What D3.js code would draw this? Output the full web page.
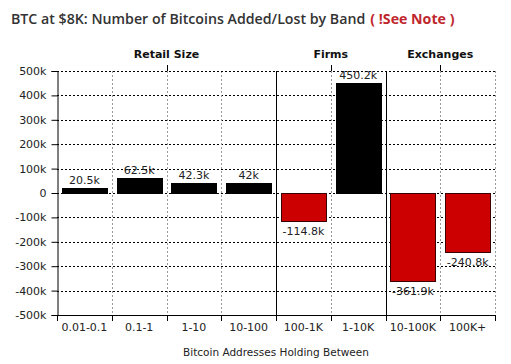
<!DOCTYPE html>
<html><head><meta charset="utf-8">
<script src="https://cdnjs.cloudflare.com/ajax/libs/d3/7.8.5/d3.min.js"></script>
<style>body{margin:0;background:#fff}svg{display:block}</style>
</head><body><svg id="c" width="511" height="364"></svg>
<script>
const categories = ["0.01-0.1","0.1-1","1-10","10-100","100-1K","1-10K","10-100K","100K+"];
const values = [20.5, 62.5, 42.3, 42, -114.8, 450.2, -361.9, -240.8];
const valueLabels = ["20.5k","62.5k","42.3k","42k","-114.8k","450.2k","-361.9k","-240.8k"];
const groups = ["Retail Size","Firms","Exchanges"];
const groupMembers = [[0,4],[4,6],[6,8]];
const yTicks = [500,400,300,200,100,0,-100,-200,-300,-400,-500];

const svg = d3.select("#c");
const L=57, R=495, T=71, B=315;
const font = "DejaVu Sans, Verdana, sans-serif";
const x = d3.scaleBand().domain(categories).range([L,R]).paddingInner(0.18).paddingOuter(0.09);
const y = d3.scaleLinear().domain([-500,500]).range([B,T]);
const step = x.step();
const bx = i => L + i*step;

// title
const title = svg.append("text").attr("x",11).attr("y",24)
  .attr("font-family","'Open Sans', sans-serif").attr("font-weight",600).attr("font-size",14.2).attr("fill","#333");
title.append("tspan").text("BTC at $8K: Number of Bitcoins Added/Lost by Band");
title.append("tspan").attr("dx",5).attr("fill","#c0272d").attr("font-weight",700).text("( !See Note )");

// horizontal gridlines
svg.append("g").selectAll("line").data(yTicks.filter(d=>d!==-500)).join("line")
  .attr("x1",L).attr("x2",R).attr("y1",d=>Math.round(y(d))+0.5).attr("y2",d=>Math.round(y(d))+0.5)
  .attr("stroke","#000").attr("stroke-dasharray","2,2").attr("stroke-width",1);

// vertical band boundaries
const bounds = d3.range(1,categories.length+1);
const groupBounds = [4,6];
svg.append("g").selectAll("line").data(bounds.filter(i=>!groupBounds.includes(i))).join("line")
  .attr("x1",i=>Math.round(bx(i))+0.5).attr("x2",i=>Math.round(bx(i))+0.5).attr("y1",T).attr("y2",B)
  .attr("stroke","#999").attr("stroke-dasharray","2,2");
svg.append("g").selectAll("line").data(groupBounds).join("line")
  .attr("x1",i=>Math.round(bx(i))+0.5).attr("x2",i=>Math.round(bx(i))+0.5).attr("y1",T).attr("y2",B)
  .attr("stroke","#000");

// bars
svg.append("g").selectAll("rect").data(values).join("rect")
  .attr("x",(d,i)=>Math.round(x(categories[i]))+0.5)
  .attr("width",Math.round(x.bandwidth()))
  .attr("y",d=>Math.round(y(Math.max(0,d)))+0.5)
  .attr("height",d=>Math.max(1,Math.round(Math.abs(y(d)-y(0)))))
  .attr("fill",d=>d>=0?"#000":"#cc0000")
  .attr("stroke",d=>d>=0?"#000":"#3a0000").attr("stroke-width",1);

// value labels
svg.append("g").selectAll("text").data(values).join("text")
  .attr("x",(d,i)=>x(categories[i])+x.bandwidth()/2)
  .attr("y",d=>d>=0? y(d)-4 : y(d)+14)
  .attr("text-anchor","middle").attr("font-family",font).attr("font-size",11).attr("fill","#222")
  .text((d,i)=>valueLabels[i]);

// y axis
const yAxis = d3.axisLeft(y).tickValues(yTicks).tickSize(6).tickPadding(5)
  .tickFormat(d=>d===0?"0":d+"k");
const gy = svg.append("g").attr("transform",`translate(${L+0.5},0)`).call(yAxis);
gy.select(".domain").attr("stroke","#000");
gy.selectAll(".tick text").attr("font-family",font).attr("font-size",11).attr("fill","#222");

// x axis
const gx = svg.append("g").attr("transform",`translate(0,${B+0.5})`).call(d3.axisBottom(x).tickSize(0).tickPadding(8));
gx.select(".domain").attr("d",`M${L},0H${R}`).attr("stroke","#000");
gx.selectAll(".tick text").attr("font-family",font).attr("font-size",11).attr("fill","#222");
svg.append("g").selectAll("line").data(d3.range(0,categories.length+1)).join("line")
  .attr("x1",i=>Math.round(bx(i))+0.5).attr("x2",i=>Math.round(bx(i))+0.5).attr("y1",B).attr("y2",B+6)
  .attr("stroke","#000");

// top group axis
svg.append("line").attr("x1",L).attr("x2",R).attr("y1",T+0.5).attr("y2",T+0.5)
  .attr("stroke","#000").attr("stroke-dasharray","2,2");
groups.forEach((g,k)=>{
  const cx = (bx(groupMembers[k][0])+bx(groupMembers[k][1]))/2;
  svg.append("line").attr("x1",Math.round(cx)+0.5).attr("x2",Math.round(cx)+0.5).attr("y1",T-6).attr("y2",T).attr("stroke","#000");
  svg.append("text").attr("x",cx).attr("y",T-13).attr("text-anchor","middle")
    .attr("font-family",font).attr("font-weight","bold").attr("font-size",11).attr("fill","#111").text(g);
});

// x axis title
svg.append("text").attr("x",(L+R)/2).attr("y",356).attr("text-anchor","middle")
  .attr("font-family",font).attr("font-size",10.5).attr("fill","#222").text("Bitcoin Addresses Holding Between");
</script></body></html>
